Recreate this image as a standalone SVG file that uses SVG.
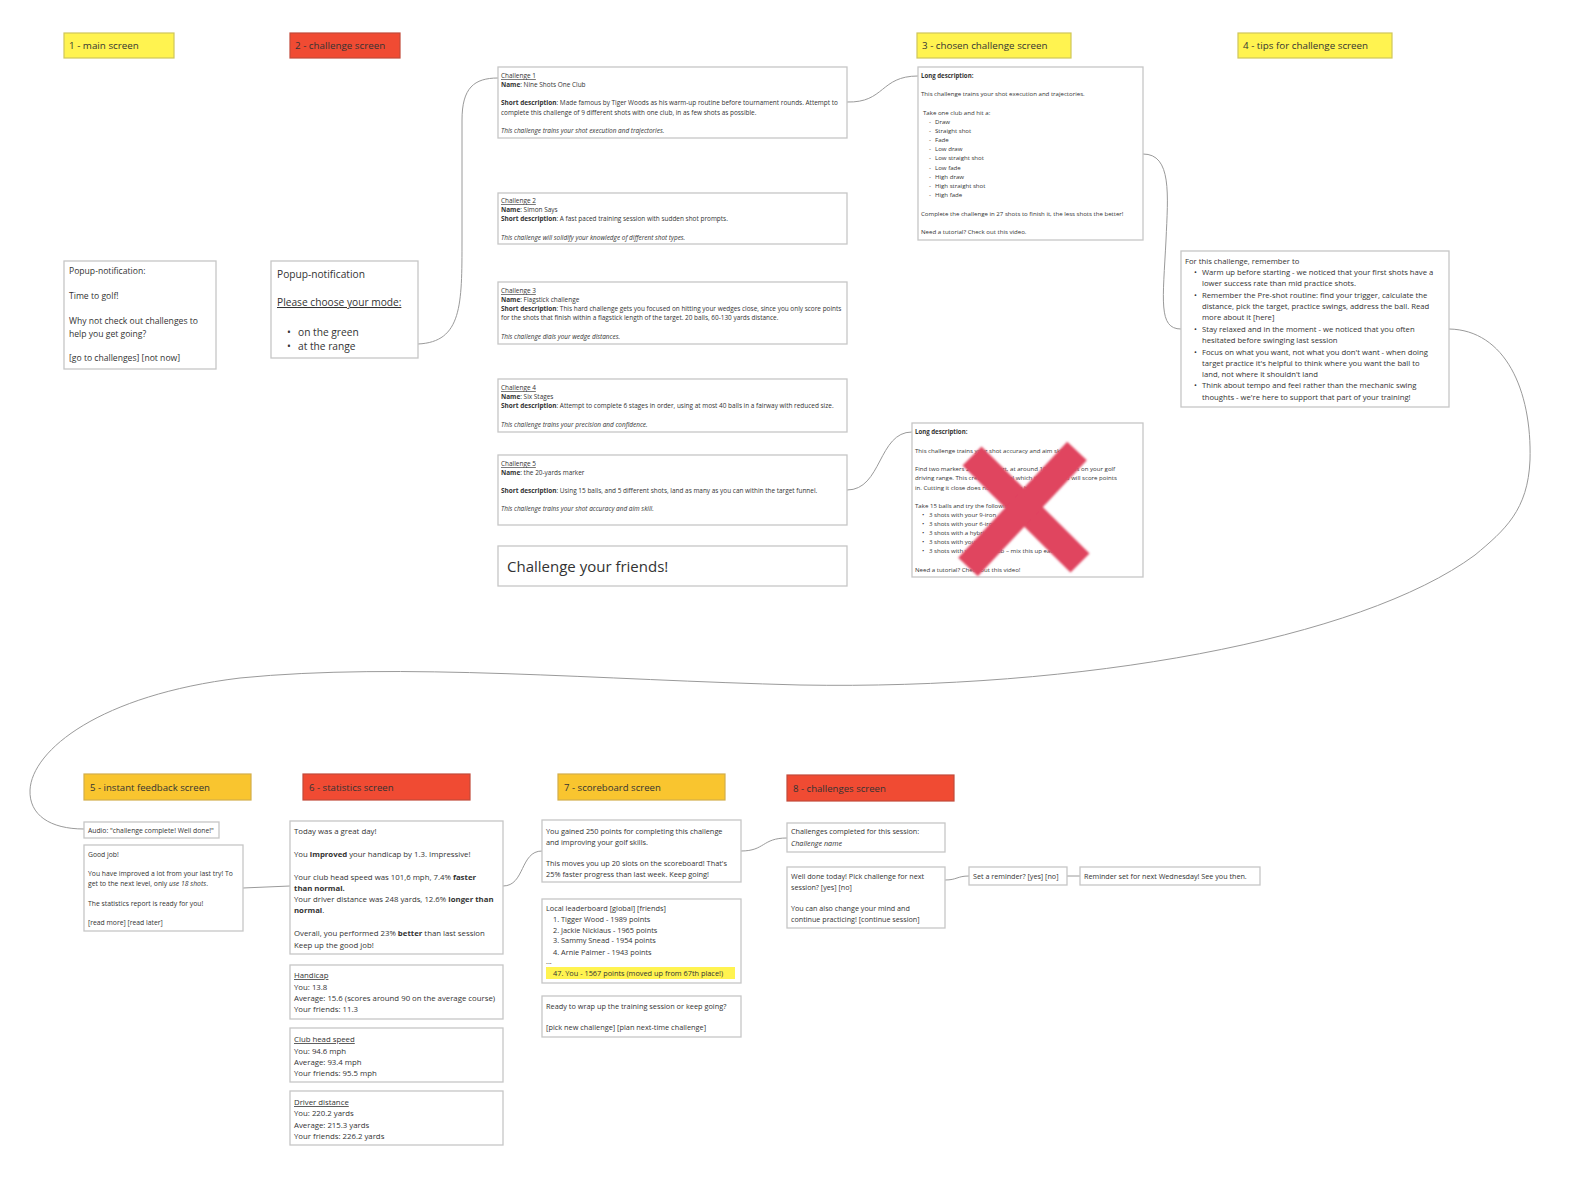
<svg xmlns="http://www.w3.org/2000/svg" width="1596" height="1186" viewBox="0 0 1596 1186">
<defs>
<style>
text{font-family:"Open Sans","Noto Sans","Liberation Sans",sans-serif;fill:#333}
.box{fill:#fff;stroke:#c6c6c6;stroke-width:1.3}
.hy{fill:#fff350;stroke:#cfc65a;stroke-width:1.2}
.hr{fill:#f04b33;stroke:#c24a3a;stroke-width:1.2}
.ho{fill:#f9c52f;stroke:#d2ad4a;stroke-width:1.2}
.h{font-size:9.8px}
.hc{font-size:9.6px}
.c{font-size:6.45px}
.ld{font-size:6.1px}
.t{font-size:7.7px}
.p1{font-size:8.6px}
.p2{font-size:10.2px}
.s5{font-size:6.8px}
.s6{font-size:7.8px}
.s7{font-size:7.35px}
.s8{font-size:7.2px}
.b{font-weight:bold}
.i{font-style:italic}
.u{text-decoration:underline}
.con{fill:none;stroke:#9a9a9a;stroke-width:1}
</style>
<filter id="soft" x="-10%" y="-10%" width="120%" height="120%"><feGaussianBlur stdDeviation="0.9"/></filter>
</defs>

<g id="connectors">
<path class="con" d="M418,344 C462,342 462,305 462,240 L462,120 C462,88 474,78 498,78"/>
<path class="con" d="M847,102 C885,103 880,76 918,76"/>
<path class="con" d="M1143,154 C1172,154 1168,195 1166,240 C1163,300 1158,329 1181,329"/>
<path class="con" d="M847,490 C882,490 878,432 912,432"/>
<path class="con" d="M1449,329 C1505,330 1532,390 1530,460 C1528,510 1505,530 1475,555 C1360,640 1080,690 800,685 C600,680 400,662 240,678 C100,695 32,750 30,790 C29,815 50,829 84,829"/>
<path class="con" d="M243,888 L290,886"/>
<path class="con" d="M503,886 C525,886 520,851 542,851"/>
<path class="con" d="M741,851 C765,851 762,838 787,838"/>
<path class="con" d="M945,880 C957,880 957,876 969,876"/>
<path class="con" d="M1067,876 L1080,876"/>
</g>

<g id="h1"><rect class="hy" x="64" y="33" width="110" height="25"/><text class="h" x="69" y="49">1 - main screen</text></g>
<g id="h2"><rect class="hr" x="290" y="33" width="110" height="25"/><text class="h" x="295" y="49">2 - challenge screen</text></g>
<g id="h3"><rect class="hy" x="917" y="33" width="154" height="25"/><text class="h" x="922" y="49">3 - chosen challenge screen</text></g>
<g id="h4"><rect class="hy" x="1238" y="33" width="154" height="25"/><text class="h" x="1243" y="49">4 - tips for challenge screen</text></g>
<g id="h5"><rect class="ho" x="84" y="774" width="167" height="26"/><text class="hc" x="90" y="791">5 - instant feedback screen</text></g>
<g id="h6"><rect class="hr" x="303" y="774" width="167" height="26"/><text class="hc" x="309" y="791">6 - statistics screen</text></g>
<g id="h7"><rect class="ho" x="558" y="774" width="167" height="26"/><text class="hc" x="564" y="791">7 - scoreboard screen</text></g>
<g id="h8"><rect class="hr" x="787" y="775" width="167" height="26"/><text class="hc" x="793" y="792">8 - challenges screen</text></g>

<g id="popup1"><rect class="box" x="64" y="261" width="152" height="108"/>
<text class="p1" x="69" y="274">Popup-notification:</text>
<text class="p1" x="69" y="299">Time to golf!</text>
<text class="p1" x="69" y="324">Why not check out challenges to</text>
<text class="p1" x="69" y="337">help you get going?</text>
<text class="p1" x="69" y="361">[go to challenges] [not now]</text>
</g>

<g id="popup2"><rect class="box" x="271" y="261" width="147" height="97"/>
<text class="p2" x="277" y="278">Popup-notification</text>
<text class="p2 u" x="277" y="306">Please choose your mode:</text>
<text class="p2" x="287" y="336">•</text><text class="p2" x="298" y="336">on the green</text>
<text class="p2" x="287" y="350">•</text><text class="p2" x="298" y="350">at the range</text>
</g>

<g id="challenge1"><rect class="box" x="498" y="67" width="349" height="71"/>
<text class="c u" x="501" y="78">Challenge 1</text>
<text class="c" x="501" y="87"><tspan class="b">Name</tspan>: Nine Shots One Club</text>
<text class="c" x="501" y="105"><tspan class="b">Short description</tspan>: Made famous by Tiger Woods as his warm-up routine before tournament rounds. Attempt to</text>
<text class="c" x="501" y="115">complete this challenge of 9 different shots with one club, in as few shots as possible.</text>
<text class="c i" x="501" y="133">This challenge trains your shot execution and trajectories.</text>
</g>

<g id="challenge2"><rect class="box" x="498" y="193" width="349" height="51"/>
<text class="c u" x="501" y="203">Challenge 2</text>
<text class="c" x="501" y="212"><tspan class="b">Name</tspan>: Simon Says</text>
<text class="c" x="501" y="221"><tspan class="b">Short description</tspan>: A fast paced training session with sudden shot prompts.</text>
<text class="c i" x="501" y="240">This challenge will solidify your knowledge of different shot types.</text>
</g>

<g id="challenge3"><rect class="box" x="498" y="282" width="349" height="62"/>
<text class="c u" x="501" y="293">Challenge 3</text>
<text class="c" x="501" y="302"><tspan class="b">Name</tspan>: Flagstick challenge</text>
<text class="c" x="501" y="311"><tspan class="b">Short description</tspan>: This hard challenge gets you focused on hitting your wedges close, since you only score points</text>
<text class="c" x="501" y="320">for the shots that finish within a flagstick length of the target. 20 balls, 60-130 yards distance.</text>
<text class="c i" x="501" y="339">This challenge dials your wedge distances.</text>
</g>

<g id="challenge4"><rect class="box" x="498" y="379" width="349" height="53"/>
<text class="c u" x="501" y="390">Challenge 4</text>
<text class="c" x="501" y="399"><tspan class="b">Name</tspan>: Six Stages</text>
<text class="c" x="501" y="408"><tspan class="b">Short description</tspan>: Attempt to complete 6 stages in order, using at most 40 balls in a fairway with reduced size.</text>
<text class="c i" x="501" y="427">This challenge trains your precision and confidence.</text>
</g>

<g id="challenge5"><rect class="box" x="498" y="455" width="349" height="70"/>
<text class="c u" x="501" y="466">Challenge 5</text>
<text class="c" x="501" y="475"><tspan class="b">Name</tspan>: the 20-yards marker</text>
<text class="c" x="501" y="493"><tspan class="b">Short description</tspan>: Using 15 balls, and 5 different shots, land as many as you can within the target funnel.</text>
<text class="c i" x="501" y="511">This challenge trains your shot accuracy and aim skill.</text>
</g>

<g id="friends"><rect class="box" x="498" y="546" width="349" height="40"/>
<text x="507" y="572" style="font-size:15px">Challenge your friends!</text>
</g>

<g id="longdesc1"><rect class="box" x="918" y="67" width="225" height="173"/>
<text class="ld b" x="921" y="78">Long description:</text>
<text class="ld" x="921" y="96">This challenge trains your shot execution and trajectories.</text>
<text class="ld" x="923" y="115">Take one club and hit a:</text>
<text class="ld" x="929" y="124">-</text><text class="ld" x="935" y="124">Draw</text>
<text class="ld" x="929" y="133">-</text><text class="ld" x="935" y="133">Straight shot</text>
<text class="ld" x="929" y="142">-</text><text class="ld" x="935" y="142">Fade</text>
<text class="ld" x="929" y="151">-</text><text class="ld" x="935" y="151">Low draw</text>
<text class="ld" x="929" y="160">-</text><text class="ld" x="935" y="160">Low straight shot</text>
<text class="ld" x="929" y="170">-</text><text class="ld" x="935" y="170">Low fade</text>
<text class="ld" x="929" y="179">-</text><text class="ld" x="935" y="179">High draw</text>
<text class="ld" x="929" y="188">-</text><text class="ld" x="935" y="188">High straight shot</text>
<text class="ld" x="929" y="197">-</text><text class="ld" x="935" y="197">High fade</text>
<text class="ld" x="921" y="216">Complete the challenge in 27 shots to finish it, the less shots the better!</text>
<text class="ld" x="921" y="234">Need a tutorial? Check out this video.</text>
</g>

<g id="longdesc2"><rect class="box" x="912" y="423" width="231" height="154"/>
<text class="ld b" x="915" y="434">Long description:</text>
<text class="ld" x="915" y="453">This challenge trains your shot accuracy and aim skill.</text>
<text class="ld" x="915" y="471">Find two markers 20 yards apart, at around 100-150 yards on your golf</text>
<text class="ld" x="915" y="480">driving range. This creates a funnel which the area you will score points</text>
<text class="ld" x="915" y="490">in. Cutting it close does not count as a hit!</text>
<text class="ld" x="915" y="508">Take 15 balls and try the following:</text>
<text class="ld" x="922" y="517">•</text><text class="ld" x="929" y="517">3 shots with your 9-iron</text>
<text class="ld" x="922" y="526">•</text><text class="ld" x="929" y="526">3 shots with your 6-iron</text>
<text class="ld" x="922" y="535">•</text><text class="ld" x="929" y="535">3 shots with a hybrid club</text>
<text class="ld" x="922" y="544">•</text><text class="ld" x="929" y="544">3 shots with your wood</text>
<text class="ld" x="922" y="553">•</text><text class="ld" x="929" y="553">3 shots with your wild club – mix this up each session.</text>
<text class="ld" x="915" y="572">Need a tutorial? Check out this video!</text>
<g filter="url(#soft)" stroke="#e0445f" stroke-width="27">
<line x1="972" y1="456" x2="1080" y2="563"/>
<line x1="1077" y1="451" x2="968" y2="567"/>
</g>
</g>

<g id="tips"><rect class="box" x="1181" y="251" width="268" height="156"/>
<text class="t" x="1185" y="264">For this challenge, remember to</text>
<text class="t" x="1194" y="275">•</text><text class="t" x="1202" y="275">Warm up before starting - we noticed that your first shots have a</text>
<text class="t" x="1202" y="286">lower success rate than mid practice shots.</text>
<text class="t" x="1194" y="298">•</text><text class="t" x="1202" y="298">Remember the Pre-shot routine: find your trigger, calculate the</text>
<text class="t" x="1202" y="309">distance, pick the target, practice swings, address the ball. Read</text>
<text class="t" x="1202" y="320">more about it [here]</text>
<text class="t" x="1194" y="332">•</text><text class="t" x="1202" y="332">Stay relaxed and in the moment - we noticed that you often</text>
<text class="t" x="1202" y="343">hesitated before swinging last session</text>
<text class="t" x="1194" y="355">•</text><text class="t" x="1202" y="355">Focus on what you want, not what you don't want - when doing</text>
<text class="t" x="1202" y="366">target practice it's helpful to think where you want the ball to</text>
<text class="t" x="1202" y="377">land, not where it shouldn't land</text>
<text class="t" x="1194" y="388">•</text><text class="t" x="1202" y="388">Think about tempo and feel rather than the mechanic swing</text>
<text class="t" x="1202" y="400">thoughts - we're here to support that part of your training!</text>
</g>

<g id="audio"><rect class="box" x="84" y="822" width="135" height="16"/>
<text class="s5" x="88" y="833">Audio: "challenge complete! Well done!"</text>
</g>

<g id="goodjob"><rect class="box" x="84" y="845" width="159" height="86"/>
<text class="s5" x="88" y="857">Good job!</text>
<text class="s5" x="88" y="876">You have improved a lot from your last try! To</text>
<text class="s5" x="88" y="886">get to the next level, only <tspan class="i">use 18 shots</tspan>.</text>
<text class="s5" x="88" y="906">The statistics report is ready for you!</text>
<text class="s5" x="88" y="925">[read more] [read later]</text>
</g>

<g id="stats"><rect class="box" x="290" y="821" width="213" height="133"/>
<text class="s6" x="294" y="834">Today was a great day!</text>
<text class="s6" x="294" y="857">You <tspan class="b">improved</tspan> your handicap by 1.3. Impressive!</text>
<text class="s6" x="294" y="880">Your club head speed was 101,6 mph, 7.4% <tspan class="b">faster</tspan></text>
<text class="s6 b" x="294" y="891">than normal.</text>
<text class="s6" x="294" y="902">Your driver distance was 248 yards, 12.6% <tspan class="b">longer than</tspan></text>
<text class="s6" x="294" y="913"><tspan class="b">normal</tspan>.</text>
<text class="s6" x="294" y="936">Overall, you performed 23% <tspan class="b">better</tspan> than last session</text>
<text class="s6" x="294" y="948">Keep up the good job!</text>
</g>

<g id="handicap"><rect class="box" x="290" y="965" width="213" height="54"/>
<text class="s6 u" x="294" y="978">Handicap</text>
<text class="s6" x="294" y="990">You: 13.8</text>
<text class="s6" x="294" y="1001">Average: 15.6 (scores around 90 on the average course)</text>
<text class="s6" x="294" y="1012">Your friends: 11.3</text>
</g>

<g id="clubspeed"><rect class="box" x="290" y="1028" width="213" height="54"/>
<text class="s6 u" x="294" y="1042">Club head speed</text>
<text class="s6" x="294" y="1054">You: 94.6 mph</text>
<text class="s6" x="294" y="1065">Average: 93.4 mph</text>
<text class="s6" x="294" y="1076">Your friends: 95.5 mph</text>
</g>

<g id="driverdist"><rect class="box" x="290" y="1091" width="213" height="54"/>
<text class="s6 u" x="294" y="1105">Driver distance</text>
<text class="s6" x="294" y="1116">You: 220.2 yards</text>
<text class="s6" x="294" y="1128">Average: 215.3 yards</text>
<text class="s6" x="294" y="1139">Your friends: 226.2 yards</text>
</g>

<g id="points"><rect class="box" x="542" y="820" width="199" height="62"/>
<text class="s7" x="546" y="834">You gained 250 points for completing this challenge</text>
<text class="s7" x="546" y="845">and improving your golf skills.</text>
<text class="s7" x="546" y="866">This moves you up 20 slots on the scoreboard! That's</text>
<text class="s7" x="546" y="877">25% faster progress than last week. Keep going!</text>
</g>

<g id="leaderboard"><rect class="box" x="542" y="899" width="199" height="84"/>
<rect x="546" y="967" width="189" height="12" fill="#fff350"/>
<text class="s7" x="546" y="911">Local leaderboard [global] [friends]</text>
<text class="s7" x="553" y="922">1. Tigger Wood - 1989 points</text>
<text class="s7" x="553" y="933">2. Jackie Nicklaus - 1965 points</text>
<text class="s7" x="553" y="943">3. Sammy Snead - 1954 points</text>
<text class="s7" x="553" y="955">4. Arnie Palmer - 1943 points</text>
<text class="s7" x="546" y="964">...</text>
<text class="s7" x="553" y="976">47.  You - 1567 points (moved up from 67th place!)</text>
</g>

<g id="wrapup"><rect class="box" x="542" y="996" width="199" height="41"/>
<text class="s7" x="546" y="1009">Ready to wrap up the training session or keep going?</text>
<text class="s7" x="546" y="1030">[pick new challenge] [plan next-time challenge]</text>
</g>

<g id="completed"><rect class="box" x="787" y="823" width="158" height="29"/>
<text class="s8" x="791" y="834">Challenges completed for this session:</text>
<text class="s8 i" x="791" y="846">Challenge name</text>
</g>

<g id="welldone"><rect class="box" x="787" y="867" width="158" height="61"/>
<text class="s8" x="791" y="879">Well done today! Pick challenge for next</text>
<text class="s8" x="791" y="890">session? [yes] [no]</text>
<text class="s8" x="791" y="911">You can also change your mind and</text>
<text class="s8" x="791" y="922">continue practicing! [continue session]</text>
</g>

<g id="reminder"><rect class="box" x="969" y="867" width="98" height="18"/>
<text class="s8" x="973" y="879">Set a reminder? [yes] [no]</text>
</g>

<g id="reminderset"><rect class="box" x="1080" y="867" width="180" height="18"/>
<text class="s8" x="1084" y="879">Reminder set for next Wednesday! See you then.</text>
</g>
</svg>
